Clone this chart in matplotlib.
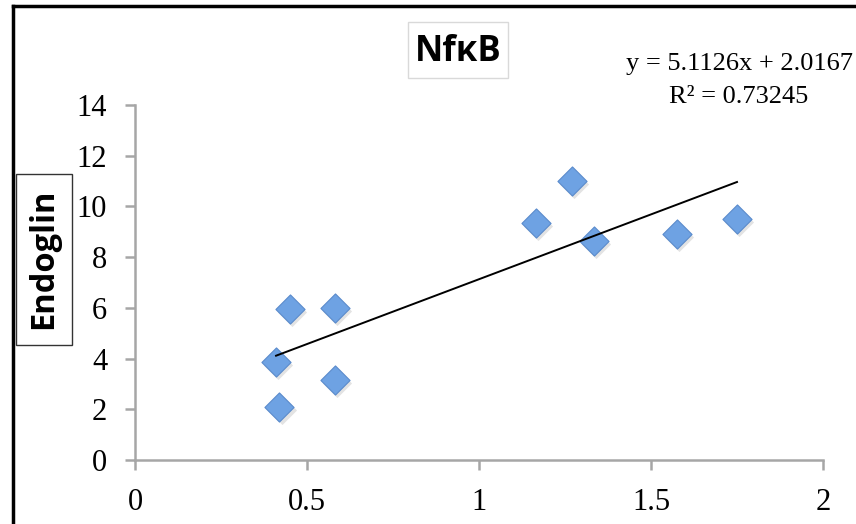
import numpy as np
import matplotlib
matplotlib.use('Agg')
import matplotlib.pyplot as plt
from matplotlib.lines import Line2D
from matplotlib.patches import Rectangle

# ---------- datos ----------
nfkb = [0.41, 0.42, 0.45, 0.58, 0.58, 1.165, 1.27, 1.335, 1.575, 1.75]
endoglin = [3.85, 2.1, 5.95, 3.15, 6.0, 9.35, 11.0, 8.65, 8.9, 9.5]
slope, intercept = 5.1126, 2.0167
r2 = 0.73245
xticks = [0, 0.5, 1, 1.5, 2]
yticks = [0, 2, 4, 6, 8, 10, 12, 14]

W, H = 856, 524
fig = plt.figure(figsize=(W / 100, H / 100), dpi=100)
ax = fig.add_axes([135 / W, 64 / H, 688 / W, 355 / H])

# sombra + marcadores
ax.scatter(np.array(nfkb) + 0.006, np.array(endoglin) - 0.12, marker='D', s=220,
           color='#b0b0b0', alpha=0.35, linewidths=0, zorder=2)
ax.scatter(nfkb, endoglin, marker='D', s=220, color='#6ea2e3',
           edgecolors='#5a8bcc', linewidths=0.8, zorder=3)

# línea de tendencia
xl = np.array([min(nfkb), max(nfkb)])
ax.plot(xl, slope * xl + intercept, color='black', lw=1.4, zorder=4)

ax.set_xlim(0, 2)
ax.set_ylim(0, 14)
ax.set_xticks(xticks)
ax.set_xticklabels(['0', '0.5', '1', '1.5', '2'])
ax.set_yticks(yticks)
for s in ['top', 'right']:
    ax.spines[s].set_visible(False)
for s in ['left', 'bottom']:
    ax.spines[s].set_color('#a6a6a6')
    ax.spines[s].set_linewidth(1.8)
ax.tick_params(direction='out', length=7, width=1.8, color='#a6a6a6',
               labelsize=22, pad=13)
for lab in ax.get_xticklabels() + ax.get_yticklabels():
    lab.set_family('Liberation Serif')

# título y etiqueta del eje y (con sus cajas)
fig.add_artist(Rectangle((408 / W, 1 - 78 / H), 100 / W, 56 / H, fc='white',
                         ec='#d9d9d9', lw=1, transform=fig.transFigure))
fig.text(458 / W, 1 - 52 / H, 'NfκB', ha='center', va='center', fontsize=25,
         fontweight='bold', family='Open Sans')
fig.add_artist(Rectangle((16 / W, 1 - 345 / H), 56 / W, 171 / H, fc='white',
                         ec='#333333', lw=1, transform=fig.transFigure))
fig.text(44 / W, 1 - 259 / H, 'Endoglin', ha='center', va='center', fontsize=23.5,
         fontweight='bold', family='Open Sans', rotation=90)

# ecuación
fig.text(739 / W, 1 - 64 / H, f'y = {slope}x + {intercept}', ha='center',
         va='center', fontsize=19, family='Liberation Serif')
fig.text(739 / W, 1 - 97 / H, f'R² = {r2}', ha='center', va='center',
         fontsize=19, family='Liberation Serif')

# marco negro
fig.add_artist(Line2D([13 / W, 1], [1 - 6 / H, 1 - 6 / H], color='black', lw=2.5,
                      transform=fig.transFigure))
fig.add_artist(Line2D([13 / W, 13 / W], [0, 1 - 6 / H], color='black', lw=2.5,
                      transform=fig.transFigure))

fig.savefig('out.png', dpi=100)
